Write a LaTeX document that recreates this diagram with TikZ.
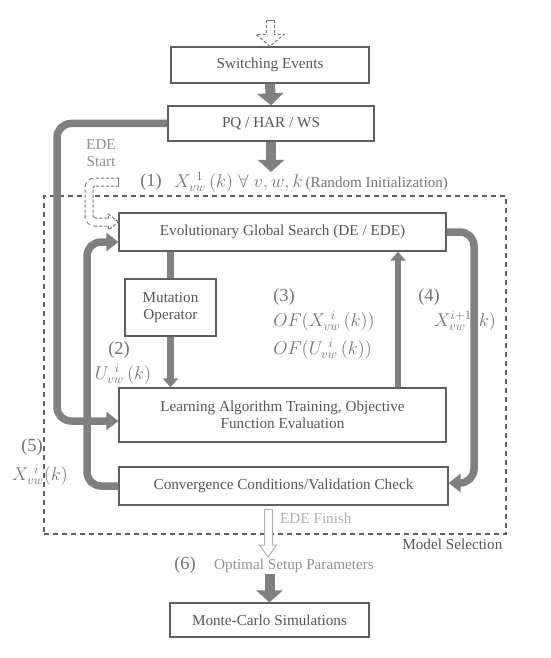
\documentclass[tikz,border=0pt]{standalone}
\usepackage{fontspec}
\setmainfont{Liberation Serif}
\usetikzlibrary{arrows.meta, positioning, shadows}
\definecolor{boxline}{RGB}{95,95,95}
\definecolor{flow}{RGB}{128,128,128}
\definecolor{txt}{RGB}{85,85,85}
\definecolor{lbl}{RGB}{115,115,115}
\definecolor{soft}{RGB}{145,145,145}
\definecolor{faint}{RGB}{175,175,175}
\tikzset{
  stage/.style={rectangle, draw=boxline, fill=white, line width=1.3pt,
    text=txt, align=center, inner sep=2pt,
    font=\fontsize{15.2}{17}\selectfont,
    drop shadow={shadow xshift=1.2pt, shadow yshift=-1.2pt, opacity=0.25}},
  bigflow/.style={draw=flow, line width=10pt,
    -{Triangle[width=26pt, length=12pt]}},
  loopflow/.style={draw=flow, line width=7.5pt, rounded corners=14pt,
    -{Triangle[width=18pt, length=12pt]}},
  thinflow/.style={draw=flow, line width=6.5pt,
    -{Triangle[width=15pt, length=9pt]}},
  hollowedge/.style={draw=#1, line width=9pt, dash pattern=on 3pt off 2pt},
  hollowcore/.style={draw=white, line width=7pt},
  hollowtip/.style={draw=#1, fill=white, line width=1pt,
    dash pattern=on 3pt off 2pt},
  mathlbl/.style={text=lbl, inner sep=0pt, scale=1.28,
    font=\fontsize{14.4}{17}\selectfont},
  plainlbl/.style={inner sep=1pt, font=\fontsize{15.2}{17}\selectfont},
  selbox/.style={draw=boxline, line width=1.2pt, dash pattern=on 5pt off 4pt,
    minimum width=462pt, minimum height=338pt, inner sep=0pt},
}

\begin{document}
\begin{tikzpicture}[x=1pt, y=-1pt]
  \useasboundingbox (0,0) rectangle (550,658);

  % model selection frame
  \node[selbox] (sel) at (275,365) {};
  \node[plainlbl, text=txt, anchor=north east]
    at ([xshift=-3pt, yshift=-3pt]sel.south east) {Model Selection};

  % boxes
  \node[stage, minimum width=198pt, minimum height=36pt] (se) at (270,65)
    {Switching Events};
  \node[stage, minimum width=206pt, minimum height=35pt] (pq) at (271,123.5)
    {PQ / HAR / WS};
  \node[stage, minimum width=327pt, minimum height=38pt] (egs) at (282.5,232)
    {Evolutionary Global Search (DE / EDE)};
  \node[stage, minimum width=91pt, minimum height=57pt] (mut) at (170.5,307.5)
    {Mutation\\Operator};
  \node[stage, minimum width=327pt, minimum height=54pt] (lat) at (282.5,415)
    {Learning Algorithm Training, Objective\\Function Evaluation};
  \node[stage, minimum width=329pt, minimum height=38pt] (cc) at (283.5,486)
    {Convergence Conditions/Validation Check};
  \node[stage, minimum width=199pt, minimum height=34pt] (mc) at (269.5,620)
    {Monte-Carlo Simulations};

  % labels
  \node[plainlbl, text=soft, align=center] (edestart) at (101,153) {EDE\\Start};
  \node[mathlbl] (n1) at (151,182) {(1)};
  \node[mathlbl, anchor=west] (init) at (174,182)
    {$X_{vw}^{\;\,1}\,(k)\;\forall\; v,w,k$\,{\fontsize{11.8}{13}\selectfont(Random Initialization)}};
  \node[mathlbl] (n2) at (119,350) {(2)};
  \node[mathlbl] (ulbl) at (123,374) {$U_{vw}^{\;\,i}\,(k)$};
  \node[mathlbl, anchor=west] (n3) at (273,297) {(3)};
  \node[mathlbl, anchor=west] (ofx) at (273,321) {$OF\big(X_{vw}^{\;\,i}\,(k)\big)$};
  \node[mathlbl, anchor=west] (ofu) at (273,349) {$OF\big(U_{vw}^{\;\,i}\,(k)\big)$};
  \node[mathlbl] (n4) at (429,297) {(4)};
  \node[mathlbl] (xnext) at (465,321) {$X_{vw}^{i+1}(k)$};
  \node[mathlbl] (n5) at (32,447) {(5)};
  \node[mathlbl] (xcur) at (40,475) {$X_{vw}^{\;\,i}(k)$};
  \node[plainlbl, text=faint, anchor=west] (fin) at (279,518) {EDE Finish};
  \node[mathlbl] (n6) at (185,565) {(6)};
  \node[plainlbl, text=soft, anchor=west] (opt) at (213,566) {Optimal Setup Parameters};

  % helper coordinates
  \coordinate (src) at (270,20);
  \coordinate (edeA) at (119,182);
  \coordinate (edetip) at ([yshift=10pt]egs.west);
  \coordinate (edebase) at ([xshift=-10pt]edetip);
  \coordinate (finsrc) at (268,509);
  \coordinate (fintip) at (268,557);
  \coordinate (leftx) at (57,0);
  \coordinate (midx) at (87,0);
  \coordinate (rightx) at (474,0);
  \coordinate (upx) at (398,0);
  \coordinate (latin) at ([yshift=-6pt]lat.west);
  \coordinate (egsin) at ([yshift=-10pt]egs.west);
  \coordinate (ccin) at ([yshift=3pt]cc.east);

  % hollow input arrow
  \draw[hollowtip=lbl] (se.north) -- ++(-14,-12) -- ++(28,0) -- cycle;
  \draw[hollowedge=lbl] (src) -- ([yshift=12pt]se.north);
  \draw[hollowcore, shorten <=1pt] (src) -- ([yshift=11pt]se.north);

  % EDE start elbow
  \draw[hollowtip=lbl] (edetip) -- ++(-10,-8) -- ++(0,16) -- cycle;
  \draw[hollowedge=lbl, rounded corners=6pt] (edeA) -- ++(-30,0) |- (edebase);
  \draw[hollowcore, rounded corners=6pt, shorten <=1pt]
    (edeA) -- ++(-30,0) |- ([xshift=1pt]edebase);

  % main flow
  \draw[bigflow] (se.south) -- (pq.north);
  \draw[bigflow] (pq.south) -- (pq.south |- init.north);
  \draw[draw=flow, line width=6.5pt] (egs.south -| mut) -- (mut.north);
  \draw[thinflow] (mut.south) -- (mut.south |- lat.north);
  \draw[thinflow] (lat.north -| upx) -- (egs.south -| upx);
  \draw[loopflow] (cc.west) -| (egsin -| midx) -- (egsin);
  \draw[loopflow] (egs.east) -| (ccin -| rightx) -- (ccin);
  \draw[loopflow] (pq.west) -| (latin -| leftx) -- (latin);

  % EDE finish arrow
  \draw[hollowtip=faint, solid] (fintip) -- ++(-8.5,-12) -- ++(17,0) -- cycle;
  \draw[hollowedge=faint, solid] (finsrc) -- ([yshift=12pt]fintip);
  \draw[hollowcore, shorten <=1pt] (finsrc) -- ([yshift=11pt]fintip);

  \draw[bigflow] (opt.south -| mc.north) -- (mc.north);
\end{tikzpicture}
\end{document}
